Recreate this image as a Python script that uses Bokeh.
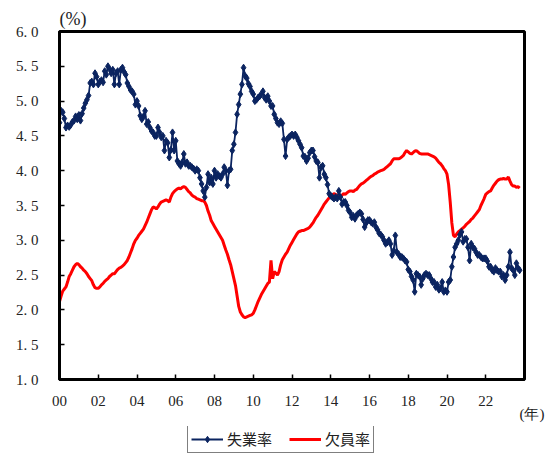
from bokeh.plotting import figure
from bokeh.layouts import column
from bokeh.models import Range1d, FixedTicker, Legend, LegendItem, Title
from bokeh.embed import file_html
from bokeh.resources import INLINE

# ---- data (monthly, Jan 2000 - Oct 2023) ----
start_year = 2000
unemp_rate = [
    4.69, 4.86, 4.84, 4.75, 4.62, 4.65, 4.63, 4.66, 4.70, 4.72, 4.78, 4.74,  # 2000
    4.80, 4.72, 4.82, 4.90, 4.97, 5.02, 5.08, 5.26, 5.28, 5.24, 5.40, 5.35,  # 2001
    5.24, 5.28, 5.30, 5.27, 5.43, 5.38, 5.50, 5.46, 5.40, 5.45, 5.24, 5.40,  # 2002
    5.43, 5.24, 5.45, 5.48, 5.42, 5.38, 5.26, 5.21, 5.16, 5.14, 5.10, 4.95,  # 2003
    5.00, 4.93, 4.79, 4.74, 4.78, 4.86, 4.67, 4.70, 4.62, 4.57, 4.55, 4.50,  # 2004
    4.50, 4.62, 4.55, 4.48, 4.50, 4.29, 4.43, 4.40, 4.19, 4.30, 4.55, 4.29,  # 2005
    4.43, 4.14, 4.10, 4.07, 4.12, 4.24, 4.10, 4.12, 4.07, 4.07, 4.05, 4.03,  # 2006
    4.00, 4.02, 4.00, 3.90, 3.81, 3.71, 3.62, 3.76, 3.95, 3.83, 3.90, 3.81,  # 2007
    4.00, 3.90, 3.95, 3.92, 3.90, 3.95, 4.05, 4.00, 3.79, 4.00, 4.02, 4.29,  # 2008
    4.38, 4.55, 4.81, 4.95, 5.10, 5.24, 5.48, 5.36, 5.33, 5.25, 5.21, 5.14,  # 2009
    5.10, 5.00, 5.02, 5.05, 5.07, 5.10, 5.14, 5.05, 5.02, 5.07, 5.00, 4.93,  # 2010
    4.93, 4.81, 4.75, 4.69, 4.67, 4.71, 4.68, 4.45, 4.21, 4.45, 4.48, 4.50,  # 2011
    4.52, 4.50, 4.52, 4.48, 4.43, 4.38, 4.33, 4.21, 4.20, 4.14, 4.18, 4.26,  # 2012
    4.29, 4.29, 4.20, 4.14, 4.12, 3.90, 4.05, 4.07, 3.95, 3.90, 3.80, 3.67,  # 2013
    3.64, 3.62, 3.60, 3.62, 3.60, 3.71, 3.62, 3.52, 3.55, 3.55, 3.50, 3.43,  # 2014
    3.40, 3.33, 3.35, 3.31, 3.36, 3.38, 3.40, 3.38, 3.30, 3.19, 3.25, 3.29,  # 2015
    3.29, 3.26, 3.24, 3.26, 3.19, 3.15, 3.10, 3.08, 3.05, 3.00, 2.95, 2.97,  # 2016
    3.00, 2.95, 2.79, 2.85, 3.07, 2.83, 2.80, 2.76, 2.76, 2.74, 2.71, 2.69,  # 2017
    2.58, 2.55, 2.48, 2.43, 2.26, 2.52, 2.50, 2.48, 2.36, 2.45, 2.50, 2.52,  # 2018
    2.50, 2.50, 2.45, 2.40, 2.40, 2.33, 2.36, 2.29, 2.31, 2.40, 2.26, 2.28,  # 2019
    2.26, 2.40, 2.43, 2.62, 2.76, 2.90, 2.95, 3.00, 3.08, 3.12, 2.98, 3.02,  # 2020
    3.02, 2.90, 2.71, 2.95, 2.90, 2.88, 2.83, 2.79, 2.79, 2.76, 2.74, 2.74,  # 2021
    2.74, 2.70, 2.62, 2.62, 2.57, 2.55, 2.60, 2.57, 2.55, 2.55, 2.48, 2.50,  # 2022
    2.43, 2.50, 2.62, 2.83, 2.60, 2.57, 2.50, 2.67, 2.60, 2.57,              # 2023
]
vacancy_rate = [
    2.12, 2.20, 2.27, 2.30, 2.33, 2.40, 2.48, 2.52, 2.57, 2.62, 2.65, 2.67,  # 2000
    2.65, 2.62, 2.60, 2.57, 2.55, 2.52, 2.48, 2.45, 2.42, 2.36, 2.32, 2.31,  # 2001
    2.31, 2.33, 2.36, 2.38, 2.41, 2.43, 2.45, 2.48, 2.50, 2.52, 2.52, 2.55,  # 2002
    2.58, 2.60, 2.61, 2.63, 2.65, 2.68, 2.71, 2.76, 2.82, 2.88, 2.95, 3.00,  # 2003
    3.03, 3.07, 3.10, 3.13, 3.16, 3.21, 3.26, 3.32, 3.38, 3.44, 3.48, 3.47,  # 2004
    3.45, 3.48, 3.52, 3.55, 3.56, 3.57, 3.58, 3.57, 3.55, 3.62, 3.67, 3.70,  # 2005
    3.72, 3.74, 3.75, 3.74, 3.76, 3.77, 3.76, 3.73, 3.70, 3.68, 3.65, 3.63,  # 2006
    3.62, 3.60, 3.59, 3.58, 3.57, 3.57, 3.55, 3.50, 3.42, 3.36, 3.28, 3.24,  # 2007
    3.20, 3.16, 3.12, 3.08, 3.04, 3.00, 2.93, 2.86, 2.80, 2.72, 2.65, 2.55,  # 2008
    2.45, 2.35, 2.20, 2.05, 1.97, 1.93, 1.90, 1.89, 1.90, 1.91, 1.92, 1.93,  # 2009
    1.95, 2.00, 2.06, 2.12, 2.17, 2.22, 2.26, 2.30, 2.34, 2.38, 2.40, 2.71,  # 2010
    2.45, 2.55, 2.53, 2.50, 2.55, 2.65, 2.72, 2.76, 2.80, 2.83, 2.88, 2.93,  # 2011
    2.97, 3.01, 3.05, 3.09, 3.12, 3.13, 3.14, 3.14, 3.15, 3.16, 3.17, 3.19,  # 2012
    3.22, 3.25, 3.29, 3.33, 3.36, 3.40, 3.44, 3.48, 3.52, 3.55, 3.58, 3.61,  # 2013
    3.63, 3.65, 3.67, 3.66, 3.64, 3.62, 3.63, 3.65, 3.67, 3.66, 3.68, 3.70,  # 2014
    3.71, 3.71, 3.70, 3.72, 3.73, 3.76, 3.79, 3.81, 3.82, 3.84, 3.86, 3.88,  # 2015
    3.90, 3.92, 3.93, 3.95, 3.96, 3.98, 3.99, 4.00, 4.01, 4.02, 4.04, 4.06,  # 2016
    4.08, 4.10, 4.14, 4.17, 4.17, 4.17, 4.17, 4.18, 4.20, 4.22, 4.26, 4.29,  # 2017
    4.27, 4.25, 4.24, 4.26, 4.28, 4.29, 4.27, 4.25, 4.24, 4.24, 4.24, 4.24,  # 2018
    4.24, 4.23, 4.22, 4.21, 4.20, 4.18, 4.15, 4.12, 4.10, 4.07, 4.03, 4.00,  # 2019
    3.95, 3.80, 3.55, 3.25, 3.07, 3.05, 3.09, 3.12, 3.14, 3.16, 3.18, 3.20,  # 2020
    3.23, 3.25, 3.27, 3.30, 3.32, 3.35, 3.38, 3.41, 3.44, 3.50, 3.55, 3.60,  # 2021
    3.66, 3.68, 3.70, 3.71, 3.75, 3.79, 3.82, 3.85, 3.87, 3.88, 3.88, 3.89,  # 2022
    3.88, 3.88, 3.91, 3.85, 3.80, 3.78, 3.78, 3.76, 3.77, 3.75,              # 2023
]
year_ticks = [2000, 2002, 2004, 2006, 2008, 2010, 2012, 2014, 2016, 2018, 2020, 2022, 2024]
year_labels = ["00", "02", "04", "06", "08", "10", "12", "14", "16", "18", "20", "22",
               "\n\u3000(年)"]
y_ticks = [1.0, 1.5, 2.0, 2.5, 3.0, 3.5, 4.0, 4.5, 5.0, 5.5, 6.0]
y_labels = ["1. 0", "1. 5", "2. 0", "2. 5", "3. 0", "3. 5", "4. 0", "4. 5", "5. 0", "5. 5", "6. 0"]
label_unemp = "失業率"
label_vac = "欠員率"
unit_y = "(%)"

x_unemp = [start_year + i / 12 for i in range(len(unemp_rate))]
x_vac = [start_year + i / 12 for i in range(len(vacancy_rate))]

NAVY = "#0b2460"
RED = "#ff0000"
SERIF = "Liberation Serif"
JP = "Noto Sans CJK JP"
TXT = "#222222"

MAIN_BOTTOM = 47
MAIN_H = 31 + 348 + MAIN_BOTTOM

p = figure(frame_width=465, frame_height=348, output_backend="svg", toolbar_location=None,
           x_range=Range1d(2000, 2024), y_range=Range1d(1.0, 6.0),
           min_border_left=59, min_border_right=24, min_border_top=31,
           min_border_bottom=MAIN_BOTTOM)
p.xgrid.visible = False
p.ygrid.visible = False
p.outline_line_color = "black"
p.outline_line_width = 3
p.background_fill_color = "white"
p.border_fill_color = "white"

for ax in (p.xaxis[0], p.yaxis[0]):
    ax.axis_line_width = 3
    ax.axis_line_color = "black"
    ax.major_tick_in = 5
    ax.major_tick_out = 0
    ax.major_tick_line_width = 1.5
    ax.major_tick_line_color = "black"
    ax.minor_tick_line_color = None
    ax.major_label_text_font = SERIF
    ax.major_label_text_font_size = "15px"
    ax.major_label_text_color = TXT

p.xaxis.ticker = FixedTicker(ticks=year_ticks)
p.xaxis.major_label_overrides = {t: l for t, l in zip(year_ticks, year_labels)}
p.xaxis.major_label_standoff = 13
p.xaxis.major_label_text_line_height = 0.85
p.yaxis.ticker = FixedTicker(ticks=y_ticks)
p.yaxis.major_label_overrides = {t: l for t, l in zip(y_ticks, y_labels)}
p.yaxis.major_label_standoff = 21

p.line(x_vac, vacancy_rate, line_color=RED, line_width=3)
p.line(x_unemp, unemp_rate, line_color=NAVY, line_width=1.8)
p.scatter(x_unemp, unemp_rate, marker="diamond", size=7, fill_color=NAVY, line_color=NAVY)

# "(%)" above the frame, at its left edge
p.title = Title(text=unit_y, align="left", text_font=SERIF, text_font_size="18px",
                text_font_style="normal", text_color=TXT, standoff=6, offset=0)

# ---- legend strip (a second figure directly under the chart) ----
# the two series are re-plotted here only as legend keys; their values lie outside
# this strip's ranges, so nothing but the legend is visible in it
q = figure(width=548, height=453 - MAIN_H, output_backend="svg", toolbar_location=None,
           x_axis_type=None, y_axis_type=None,
           x_range=Range1d(-100, -99), y_range=Range1d(-100, -99),
           min_border=0, min_border_left=0, min_border_right=0, min_border_top=0,
           min_border_bottom=0)
q.grid.visible = False
q.outline_line_color = None
q.background_fill_color = "white"
q.border_fill_color = "white"
q_un_line = q.line(x_unemp, unemp_rate, line_color=NAVY, line_width=1.8)
q_un_pt = q.scatter(x_unemp, unemp_rate, marker="diamond", size=7,
                    fill_color=NAVY, line_color=NAVY)
q_vac = q.line(x_vac, vacancy_rate, line_color=RED, line_width=3)

legend = Legend(items=[LegendItem(label=label_unemp, renderers=[q_un_line, q_un_pt]),
                       LegendItem(label=label_vac, renderers=[q_vac])],
                orientation="horizontal", location=(128, 0),
                border_line_color="black", border_line_width=1,
                background_fill_color="white", background_fill_alpha=1,
                padding=3, margin=0, spacing=17, glyph_width=32, glyph_height=16,
                label_height=18, label_standoff=4, label_text_font=JP,
                label_text_font_size="15px", label_text_color=TXT)
q.add_layout(legend)

layout = column(p, q, spacing=0)
open("out.html", "w").write(file_html(layout, INLINE))
